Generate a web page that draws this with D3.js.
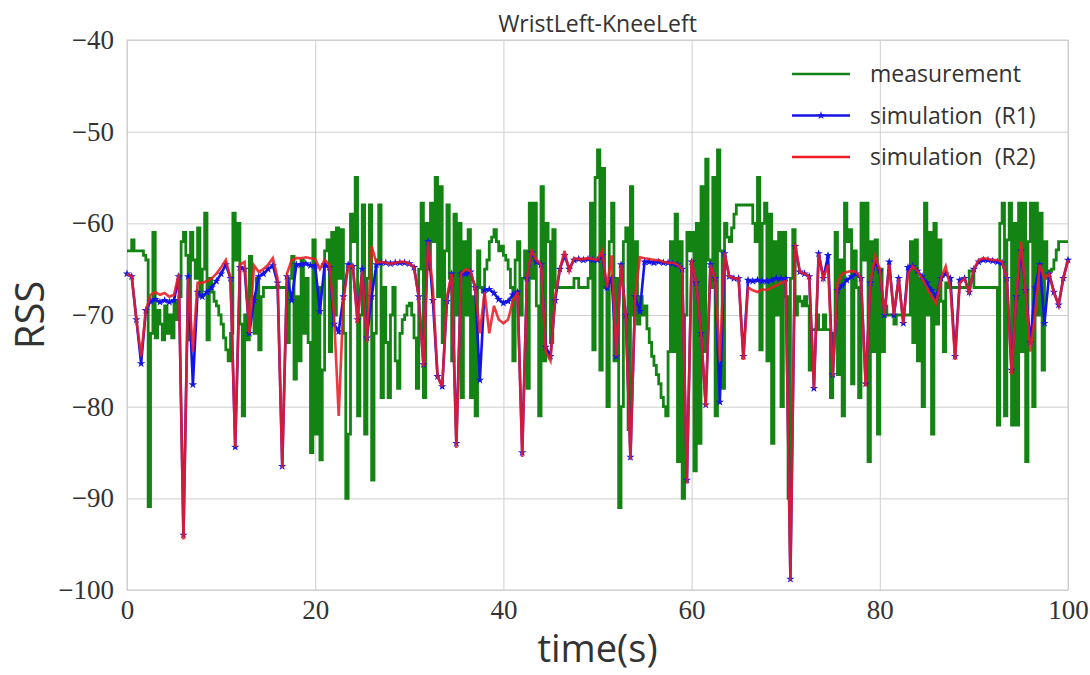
<!DOCTYPE html>
<html>
  <head>
    <meta charset="utf-8" />
    <title>WristLeft-KneeLeft</title>
    <style>
      html,
      body {
        margin: 0;
        padding: 0;
        background-color: white;
      }
      .tick text {
        font-family: "Liberation Serif", serif;
        font-size: 27px;
        fill: #333;
      }
      .label {
        font-family: "Open Sans", sans-serif;
        fill: #333;
      }
    </style>
  </head>
  <body>
    <script src="https://d3js.org/d3.v7.min.js"></script>
    <script>
      // sample step of each series (s)
      var measStep = 0.25;
      var simStep = 0.5;

      var xTicks = [0, 20, 40, 60, 80, 100];
      var yTicks = [-100, -90, -80, -70, -60, -50, -40];

      var seriesNames = ["measurement", "simulation (R1)", "simulation (R2)"];

      // measurement, one value every 0.25 s
      var measurement = [
        -63, -63, -61.8, -63,  -63, -63, -63, -63.5,  -64, -90.9, -72, -61,
        -72.5, -69.5, -71, -72.7,  -69, -72, -70, -72.5,
        -68.5, -70.5, -68, -62,  -61, -63.5, -72.7, -61,  -64, -66, -60.5, -68,
        -65, -58.9, -72.7, -66,  -67.5, -68.5, -69, -70,
        -71, -72.5, -73.8, -75,  -72, -58.9, -64, -60,  -71, -81, -70, -72.7,
        -63.6, -68, -72, -66,  -73.8, -68, -67, -67,
        -67, -67, -67, -67,  -67, -67, -67, -67,  -73, -66, -63.6, -77,
        -68, -75, -64, -72,  -66, -73, -85, -61.8,
        -83, -67, -85.8, -76,  -63, -61.8, -74, -61,  -70, -60.5, -66, -60.7,
        -72, -90, -83, -59,  -62, -55, -81, -70,
        -58, -83, -66, -58,  -88, -72, -64, -58,  -79, -67, -73, -79,
        -70, -67, -75, -78,  -72, -70.5, -70, -69,
        -68.7, -70, -72.5, -78,  -65, -57.8, -79, -60,  -65, -57.8, -62, -55,
        -68, -56, -73, -63,  -58, -66, -75, -59,
        -70, -60, -79, -62,  -70, -60.7, -79, -68,  -81, -63, -67, -67.5,
        -65, -64, -62, -61.5,  -60.7, -62, -63, -62.5,
        -63.5, -64, -65, -67,  -75, -64, -62, -70,  -66, -63, -78, -57.8,
        -66, -57.8, -69, -81,  -56, -75, -60, -62,
        -73, -60.7, -67, -67,  -67, -67, -67, -67,  -67, -67, -66, -66,
        -67, -67, -67, -67,  -66, -57.8, -73.8, -55,
        -52, -76, -54, -67,  -80, -62, -57.8, -75,  -66, -91, -80, -62,
        -60.5, -82.5, -56, -70,  -62, -71, -68, -70,
        -69, -71.5, -73, -74.5,  -75.5, -76.5, -77.5, -79,  -80, -81, -74, -62,
        -74, -59, -86, -62,  -90, -70, -61, -63,
        -61, -87, -60, -84,  -56, -74, -53, -64,  -67, -55, -81, -52,
        -63, -78, -60, -61.5,  -62, -60.5, -59, -58,
        -58, -58, -58, -58,  -58, -58, -60, -62,  -55, -73.8, -60, -57.8,
        -75, -59, -84, -62,  -70, -61, -80, -61,
        -68, -90, -66, -60.7,  -70, -68, -68.5, -69,  -68, -69, -76, -71.6,
        -71.6, -70, -71.6, -71.6,  -70, -71.6, -71.6, -79,
        -72, -61, -76.5, -64,  -81, -57.8, -62, -60.7,  -77.5, -63, -67, -79,
        -57.8, -64, -57.8, -86,  -62, -74, -61.8, -83,
        -65, -74, -69, -70,  -70, -70, -71, -70,  -70, -70, -70, -70,
        -70, -62, -73, -61.8,  -75, -66, -80, -57.8,
        -70, -61, -83, -60,  -71, -61.8, -68.5, -74,  -66.5, -67, -67, -67,
        -67, -67, -67, -67,  -67, -67, -65.2, -65.2,
        -67, -67, -67, -67,  -67, -67, -67, -67,  -67, -67, -82, -60,
        -57.8, -81, -61.8, -57.8,  -82, -60, -82, -57.8,
        -74, -57.8, -86, -62,  -57.8, -80, -57.8, -70,  -58.9, -76, -62, -66,
        -65.2, -65, -64, -62.9,  -62, -62, -62, -62,
        -62
      ];

      // simulation R1, one value every 0.5 s
      var simR1 = [
        -65.5, -65.8, -70.5, -75.3, -69.5, -68.5, -68.3, -68.6, -68.4, -68.6,
        -68.4, -65.8, -94, -65.8, -77.6, -67.5, -68, -67.5, -67, -66.3,
        -65.5, -64.5, -66, -84.4, -64.8, -65, -72, -68.4, -65.8, -65.5,
        -65, -64.6, -66.5, -86.5, -65.8, -68.4, -64.5, -64.5, -64.4, -64.6,
        -64.6, -69.6, -64.5, -64.8, -71, -71.8, -68, -64.5, -64.7, -70.5,
        -65, -72.5, -68, -64.5, -64.3, -64.3, -64.4, -64.3, -64.3, -64.3,
        -64.4, -64.8, -68, -75.4, -62, -68.4, -76.7, -77.8, -68.5, -65.5,
        -84, -65.5, -65.5, -65.3, -67, -77.1, -67.3, -67.2, -67.6, -68.3,
        -68.7, -68.5, -67.8, -67.5, -85, -66, -63.2, -64.2, -64.5, -73.5,
        -74.5, -68.4, -65, -63.5, -65, -64, -63.9, -64, -63.9, -64,
        -64, -63.5, -67, -66, -74.5, -64.5, -70, -85.5, -68, -69.6,
        -64.2, -64.2, -64.3, -64.2, -64.3, -64.3, -64.4, -64.5, -65, -88,
        -64.2, -66.5, -72, -79.8, -64.5, -66, -79.5, -63.3, -65.8, -66,
        -66, -74.5, -66.2, -66.3, -66.2, -66.3, -66.3, -66.2, -66, -66,
        -66, -98.8, -62.5, -65.3, -65.5, -65.8, -78, -63.3, -66, -63.5,
        -76.5, -67.3, -66.8, -66.2, -65.8, -65.5, -66, -77.5, -66.5, -64.2,
        -65.2, -70, -64.2, -70, -66, -70.9, -64.8, -64.7, -65.2, -65.8,
        -66.5, -67.3, -68, -66, -65.5, -66, -74.5, -66.2, -66, -67.5,
        -65, -64.2, -64, -64, -64.1, -64.2, -64.3, -66, -76, -68,
        -63, -67.3, -73, -67, -64.5, -70.9, -65.5, -67.5, -68.9, -66,
        -64
      ];

      // simulation R2, one value every 0.5 s
      var simR2 = [
        -65.5, -65.8, -70.5, -74.5, -69.5, -67.8, -67.5, -67.8, -67.6, -68,
        -67.8, -65.5, -94.5, -66, -74, -66.5, -66.5, -66.3, -66, -65.5,
        -64.8, -64, -66, -84.4, -64.5, -64.2, -72, -64.6, -65.3, -65,
        -64.5, -63.8, -66, -86.7, -65.5, -64, -63.8, -63.8, -63.7, -63.8,
        -63.9, -65, -64, -64.5, -70, -81, -68.4, -64.7, -64.6, -70.9,
        -65.2, -73, -62.5, -64.3, -64.2, -64.3, -64.4, -64.3, -64.2, -64.2,
        -64.4, -64.8, -68, -75.6, -62, -67, -76.7, -77.8, -68, -65.5,
        -84.5, -65.5, -65, -65.2, -67, -72, -67.5, -72, -69, -70.5,
        -70.9, -70.5, -68.5, -67.5, -85.5, -66, -63, -64, -64.5, -74,
        -75, -68, -65, -63, -65.2, -63.8, -63.9, -63.9, -63.8, -63.9,
        -64, -63, -67, -63.5, -74.5, -64.5, -70, -85.8, -68, -63.7,
        -63.8, -63.9, -64, -64, -64.2, -64.3, -64.3, -64.5, -65, -88.4,
        -64, -66.5, -72, -80, -64.5, -66, -75, -63.2, -65.8, -66,
        -66, -74.9, -67, -67.3, -67.5, -67.2, -67.3, -67, -66.8, -66.5,
        -66.3, -99, -62.2, -65.3, -65.5, -65.8, -78, -63.3, -66, -64.5,
        -76.7, -66.5, -65.5, -65.3, -65.2, -65.3, -66, -77.8, -66.5, -63.6,
        -65, -70, -64.5, -70, -66, -70.9, -65.5, -64.7, -65.2, -66,
        -67, -68, -68.7, -66, -64.7, -67, -74.9, -66.5, -66, -67.5,
        -65, -64, -63.8, -63.9, -64, -64, -64.2, -66, -76.5, -68,
        -62, -67.5, -74, -70, -64.5, -66, -65.5, -67.5, -68.9, -66,
        -64
      ];

      var w = 1090;
      var h = 675;
      var plotLeft = 127, plotRight = 1068, plotTop = 40, plotBottom = 590;

      var svg = d3
        .select("body")
        .append("svg")
        .attr("width", w)
        .attr("height", h)
        .style("background", "white");

      var x = d3.scaleLinear().domain([0, 100]).range([plotLeft, plotRight]);
      var y = d3.scaleLinear().domain([-100, -40]).range([plotBottom, plotTop]);

      // grid
      svg.append("g")
        .attr("transform", "translate(0," + plotBottom + ")")
        .call(d3.axisBottom(x).tickValues(xTicks).tickSize(-(plotBottom - plotTop)).tickFormat(""))
        .call(function (g) { g.select(".domain").remove(); })
        .selectAll("line")
        .attr("stroke", "#cfcfcf");

      svg.append("g")
        .attr("transform", "translate(" + plotLeft + ",0)")
        .call(d3.axisLeft(y).tickValues(yTicks).tickSize(-(plotRight - plotLeft)).tickFormat(""))
        .call(function (g) { g.select(".domain").remove(); })
        .selectAll("line")
        .attr("stroke", "#cfcfcf");

      svg.append("rect")
        .attr("x", plotLeft)
        .attr("y", plotTop)
        .attr("width", plotRight - plotLeft)
        .attr("height", plotBottom - plotTop)
        .attr("fill", "none")
        .attr("stroke", "#cfcfcf");

      // tick labels
      svg.append("g")
        .attr("transform", "translate(0," + plotBottom + ")")
        .call(d3.axisBottom(x).tickValues(xTicks).tickSize(0).tickPadding(10).tickFormat(d3.format("d")))
        .call(function (g) { g.select(".domain").remove(); });

      svg.append("g")
        .attr("transform", "translate(" + plotLeft + ",0)")
        .call(d3.axisLeft(y).tickValues(yTicks).tickSize(0).tickPadding(13).tickFormat(d3.format("d")))
        .call(function (g) { g.select(".domain").remove(); });

      // lines
      var plot = svg.append("g");

      var measLine = d3.line()
        .x(function (d, i) { return x(i * measStep); })
        .y(function (d) { return y(d); })
        .curve(d3.curveStepAfter);

      var simLine = d3.line()
        .x(function (d, i) { return x(i * simStep); })
        .y(function (d) { return y(d); });

      plot.append("path")
        .datum(measurement)
        .attr("d", measLine)
        .attr("fill", "none")
        .attr("stroke", "#138413")
        .attr("stroke-width", 2.8);

      plot.append("path")
        .datum(simR1)
        .attr("d", simLine)
        .attr("fill", "none")
        .attr("stroke", "#1414e6")
        .attr("stroke-width", 2.6);

      var star = d3.symbol().type(d3.symbolStar).size(22);

      plot.selectAll(".r1mark")
        .data(simR1)
        .enter()
        .append("path")
        .attr("class", "r1mark")
        .attr("d", star)
        .attr("transform", function (d, i) { return "translate(" + x(i * simStep) + "," + y(d) + ")"; })
        .attr("fill", "#1414e6");

      plot.append("path")
        .datum(simR2)
        .attr("d", simLine)
        .attr("fill", "none")
        .attr("stroke", "#ec1c24")
        .attr("stroke-width", 2.6)
        .attr("opacity", 0.88);

      // title and axis labels
      svg.append("text")
        .attr("class", "label")
        .attr("x", (plotLeft + plotRight) / 2)
        .attr("y", 32)
        .attr("text-anchor", "middle")
        .style("font-size", "23px")
        .text("WristLeft-KneeLeft");

      svg.append("text")
        .attr("class", "label")
        .attr("x", (plotLeft + plotRight) / 2)
        .attr("y", 662)
        .attr("text-anchor", "middle")
        .style("font-size", "38px")
        .text("time(s)");

      svg.append("text")
        .attr("class", "label")
        .attr("transform", "translate(44," + (plotTop + plotBottom) / 2 + ") rotate(-90)")
        .attr("text-anchor", "middle")
        .style("font-size", "40px")
        .text("RSS");

      // legend
      var legendColors = ["#138413", "#1414e6", "#ec1c24"];
      var legend = svg.selectAll(".legend")
        .data(seriesNames)
        .enter()
        .append("g")
        .attr("class", "legend")
        .attr("transform", function (d, i) { return "translate(792," + (74 + i * 41.5) + ")"; });

      legend.append("line")
        .attr("x1", 0)
        .attr("x2", 58)
        .attr("stroke", function (d, i) { return legendColors[i]; })
        .attr("stroke-width", 2.4);

      legend.filter(function (d, i) { return i === 1; })
        .append("path")
        .attr("d", star)
        .attr("transform", "translate(29,0)")
        .attr("fill", "#1414e6");

      legend.append("text")
        .attr("class", "label")
        .attr("x", 78)
        .attr("y", 8)
        .style("font-size", "23px")
        .style("word-spacing", "6px")
        .text(function (d) { return d; });
    </script>
  </body>
</html>
